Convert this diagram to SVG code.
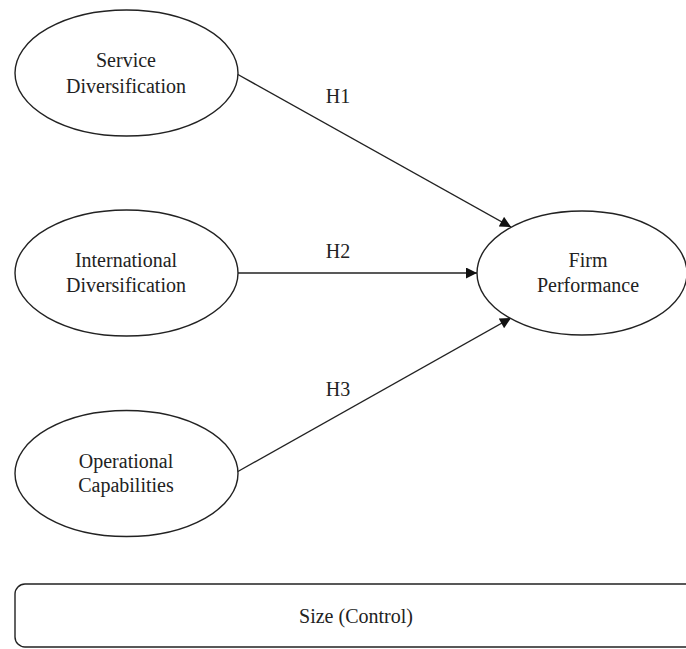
<svg xmlns="http://www.w3.org/2000/svg" width="686" height="649" viewBox="0 0 686 649">
<defs>
<style>
.node ellipse{fill:#fff;stroke:#222;stroke-width:1.4}
text{font-family:"Liberation Serif","Times New Roman",serif;font-size:20px;fill:#222;text-anchor:middle}
.conn line{stroke:#222;stroke-width:1.4}
</style>
<marker id="ah" viewBox="0 0 10 10" refX="10" refY="5" markerWidth="14" markerHeight="11" markerUnits="userSpaceOnUse" orient="auto"><path d="M0,0 L10,5 L0,10 z" fill="#111"/></marker>
</defs>
<rect width="686" height="649" fill="#fff"/>
<g class="conn" id="connectors">
<line x1="237" y1="74" x2="511" y2="227" marker-end="url(#ah)"/>
<line x1="238" y1="273" x2="477" y2="273" marker-end="url(#ah)"/>
<line x1="237" y1="472" x2="511" y2="318" marker-end="url(#ah)"/>
<text x="338" y="103">H1</text>
<text x="338" y="258">H2</text>
<text x="338" y="396">H3</text>
</g>
<g class="node" id="service">
<ellipse cx="126.5" cy="73" rx="111.5" ry="63"/>
<text x="126" y="67">Service</text>
<text x="126" y="93">Diversification</text>
</g>
<g class="node" id="international">
<ellipse cx="126.5" cy="273" rx="111.5" ry="63"/>
<text x="126" y="267">International</text>
<text x="126" y="292">Diversification</text>
</g>
<g class="node" id="operational">
<ellipse cx="126.5" cy="473.5" rx="111.5" ry="63"/>
<text x="126" y="468">Operational</text>
<text x="126" y="492">Capabilities</text>
</g>
<g class="node" id="firm">
<ellipse cx="582" cy="273" rx="105" ry="62"/>
<text x="588" y="267">Firm</text>
<text x="588" y="292">Performance</text>
</g>
<g id="size">
<rect x="15" y="584" width="700" height="63" rx="10" ry="10" fill="#fff" stroke="#222" stroke-width="1.4"/>
<text x="356" y="623">Size (Control)</text>
</g>
</svg>
